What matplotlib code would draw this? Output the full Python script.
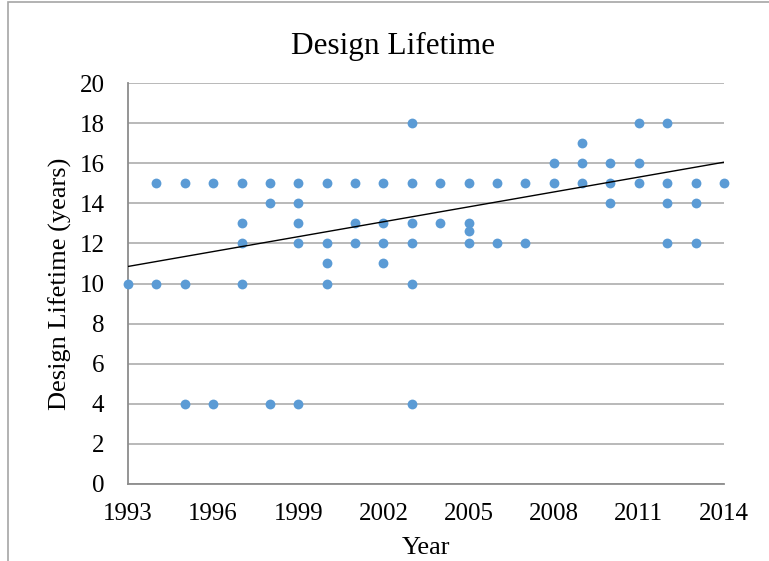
import matplotlib
matplotlib.use('Agg')
import matplotlib.pyplot as plt
from matplotlib.patches import Rectangle

plt.rcParams['font.family'] = ['Liberation Serif', 'DejaVu Serif']

# design lifetime per launch year, one entry per distinct point
years = [1993,
         1994, 1994,
         1995, 1995, 1995,
         1996, 1996,
         1997, 1997, 1997, 1997,
         1998, 1998, 1998,
         1999, 1999, 1999, 1999, 1999,
         2000, 2000, 2000, 2000,
         2001, 2001, 2001,
         2002, 2002, 2002, 2002,
         2003, 2003, 2003, 2003, 2003, 2003,
         2004, 2004,
         2005, 2005, 2005, 2005,
         2006, 2006,
         2007, 2007,
         2008, 2008,
         2009, 2009, 2009,
         2010, 2010, 2010,
         2011, 2011, 2011,
         2012, 2012, 2012, 2012,
         2013, 2013, 2013,
         2014]
lifetime = [10,
            15, 10,
            15, 10, 4,
            15, 4,
            15, 13, 12, 10,
            15, 14, 4,
            15, 14, 13, 12, 4,
            15, 12, 11, 10,
            15, 13, 12,
            15, 13, 12, 11,
            18, 15, 13, 12, 10, 4,
            15, 13,
            15, 13, 12.6, 12,
            15, 12,
            15, 12,
            16, 15,
            17, 16, 15,
            16, 15, 14,
            18, 16, 15,
            18, 15, 14, 12,
            15, 14, 12,
            15]

# linear trend line end points
trend_x = [1993, 2014]
trend_y = [10.85, 16.05]

xticks = [1993, 1996, 1999, 2002, 2005, 2008, 2011, 2014]
yticks = [0, 2, 4, 6, 8, 10, 12, 14, 16, 18, 20]

fig = plt.figure(figsize=(7.69, 5.61), dpi=100)
ax = fig.add_axes([128/769, 1-484/561, (724-128)/769, (484-83)/561])

ax.grid(axis='y', color='#A6A6A6', linewidth=1.1, zorder=0)
ax.scatter(years, lifetime, s=50, color='#5B9BD5', zorder=3, linewidths=0, clip_on=False)
ax.plot(trend_x, trend_y, color='black', linewidth=1.0, zorder=4)

ax.set_xlim(1993, 2014)
ax.set_ylim(0, 20)
ax.set_xticks(xticks)
ax.set_yticks(yticks)
ax.tick_params(axis='both', length=0, labelsize=18)
ax.tick_params(axis='x', pad=14)
ax.tick_params(axis='y', pad=17)

for s in ['top', 'right']:
    ax.spines[s].set_visible(False)
for s in ['left', 'bottom']:
    ax.spines[s].set_color('#8C8C8C')
    ax.spines[s].set_linewidth(1.3)

fig.text(393/769, 1-46/561, 'Design Lifetime', fontsize=22.5, ha='center', va='center')
ax.set_xlabel('Year', fontsize=19, labelpad=8)
ax.set_ylabel('Design Lifetime (years)', fontsize=19, labelpad=5)

# chart area border (cropped at right and bottom in the original)
fig.patches.append(Rectangle((8/769, -0.1), 1.2, 1.1 - 2/561, transform=fig.transFigure,
                             fill=False, edgecolor='#A6A6A6', linewidth=1.2))

fig.savefig('out.png', dpi=100)
